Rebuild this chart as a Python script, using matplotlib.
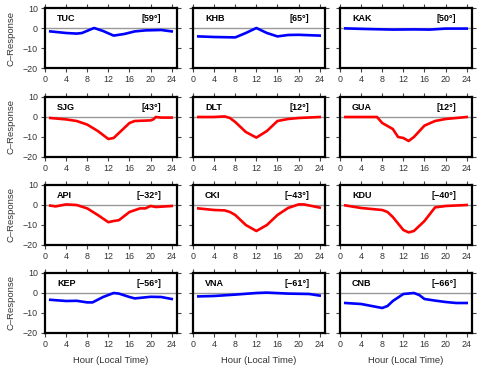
import numpy as np
import matplotlib
matplotlib.use("Agg")
import matplotlib.pyplot as plt

plt.rcParams['font.family'] = ['Liberation Sans', 'DejaVu Sans']

# station names, latitude labels and colours
stations = ['TUC', 'KHB', 'KAK', 'SJG', 'DLT', 'GUA', 'API', 'CKI', 'KDU', 'KEP', 'VNA', 'CNB']
lats = ['[59°]', '[65°]', '[50°]', '[43°]', '[12°]', '[12°]',
        '[\u221232°]', '[\u221243°]', '[\u221240°]', '[\u221256°]', '[\u221261°]', '[\u221266°]']
colors = ['blue'] * 3 + ['red'] * 6 + ['blue'] * 3

# C-response vs local hour
tuc_h = [1, 4, 6, 7, 9.3, 11, 13, 15, 17, 19, 22, 24]
tuc_v = [-1.7, -2.5, -2.8, -2.5, 0, -1.5, -3.8, -3, -1.7, -1.2, -1, -1.7]
khb_h = [1, 4, 8, 10, 12, 14, 16, 18, 20, 24]
khb_v = [-4.2, -4.5, -4.7, -2.5, 0, -2.5, -4.2, -3.5, -3.4, -3.8]
kak_h = [1, 5, 10, 14, 17, 20, 24]
kak_v = [-0.2, -0.5, -0.8, -0.7, -0.8, -0.3, -0.3]
sjg_h = [1, 4, 6, 8, 10, 12, 13, 14, 16, 17, 20, 20.5, 21, 22, 24]
sjg_v = [-0.5, -1.2, -2, -3.8, -7, -11, -10.5, -8, -3, -2, -1.7, -1.2, 0, -0.3, -0.3]
dlt_h = [1, 4, 6, 7, 8, 10, 12, 14, 16, 18, 20, 24]
dlt_v = [0, 0, 0.3, -0.5, -2.5, -7.5, -10.3, -7, -2, -1, -0.5, 0]
gua_h = [1, 7, 8, 10, 11, 12, 13, 14, 16, 18, 20, 24]
gua_v = [0, 0, -3, -6, -10, -10.5, -12, -10, -4.3, -2, -1, 0]
api_h = [1, 2, 4, 6, 8, 10, 12, 13, 14, 16, 18, 19, 20, 21, 24]
api_v = [-0.3, -0.7, 0.3, 0, -1.7, -5, -8.6, -8, -7.6, -3.5, -1.7, -1.7, -0.5, -1, -0.5]
cki_h = [1, 4, 6, 7, 8, 10, 12, 14, 16, 18, 20, 21, 24]
cki_v = [-1.7, -2.5, -2.7, -3.5, -5, -10, -13, -10, -5, -1.5, 0.3, 0.3, -1.3]
kdu_h = [1, 4, 8, 9, 10, 12, 13, 14, 16, 18, 20, 24]
kdu_v = [-0.2, -1.5, -2.5, -3.5, -6, -12.5, -13.7, -13, -8, -1.2, -0.5, 0]
kep_h = [1, 4, 6, 8, 9, 11, 13, 14, 16, 17, 20, 22, 24]
kep_v = [-3.4, -4, -3.9, -4.7, -4.7, -2, 0, -0.3, -2, -2.7, -1.9, -2, -3]
vna_h = [1, 4, 8, 12, 14, 18, 22, 24]
vna_v = [-1.7, -1.5, -0.8, 0, 0.2, -0.3, -0.5, -1.3]
cnb_h = [1, 4, 6, 8, 9, 10, 12, 14, 15, 16, 18, 20, 22, 24]
cnb_v = [-5, -5.5, -6.5, -7.5, -6.5, -4, -0.5, 0, -1, -3, -3.8, -4.5, -5, -5]

hours = [tuc_h, khb_h, kak_h, sjg_h, dlt_h, gua_h, api_h, cki_h, kdu_h, kep_h, vna_h, cnb_h]
vals = [tuc_v, khb_v, kak_v, sjg_v, dlt_v, gua_v, api_v, cki_v, kdu_v, kep_v, vna_v, cnb_v]

fig = plt.figure(figsize=(4.79, 3.71), dpi=100)
lefts = [45, 193, 340]
bottoms = [68, 157, 245, 333]
W, H = 132, 60

for i in range(12):
    r, c = i // 3, i % 3
    ax = fig.add_axes([lefts[c] / 479, 1 - bottoms[r] / 371, W / 479, H / 371])
    ax.axhline(0, color='#999999', lw=1.0, zorder=1)
    ax.plot(hours[i], vals[i], color=colors[i], lw=1.9, zorder=2)
    ax.set_xlim(0, 25)
    ax.set_ylim(-20, 10)
    ax.set_xticks(range(0, 25, 4))
    ax.set_yticks([-20, -10, 0, 10])
    ax.set_yticklabels(['\u221220', '\u221210', '0', '10'])
    ax.tick_params(direction='out', length=3, width=0.8, color='#444444',
                   labelsize=6.4, labelcolor='#333333', top=True, right=True, pad=2)
    if c != 0:
        ax.tick_params(labelleft=False)
    else:
        ax.set_ylabel('C\u2013Response', fontsize=6.8, color='#333333', labelpad=5)
    if r == 3:
        ax.set_xlabel('Hour (Local Time)', fontsize=6.8, color='#333333', labelpad=5)
    for s in ax.spines.values():
        s.set_linewidth(1.6)
    ax.text(0.09, 0.83, stations[i], transform=ax.transAxes, fontsize=6.5,
            fontweight='bold', va='center', ha='left')
    ax.text(0.88, 0.83, lats[i], transform=ax.transAxes, fontsize=6.5,
            fontweight='bold', va='center', ha='right')

fig.savefig('out.png', dpi=100)
